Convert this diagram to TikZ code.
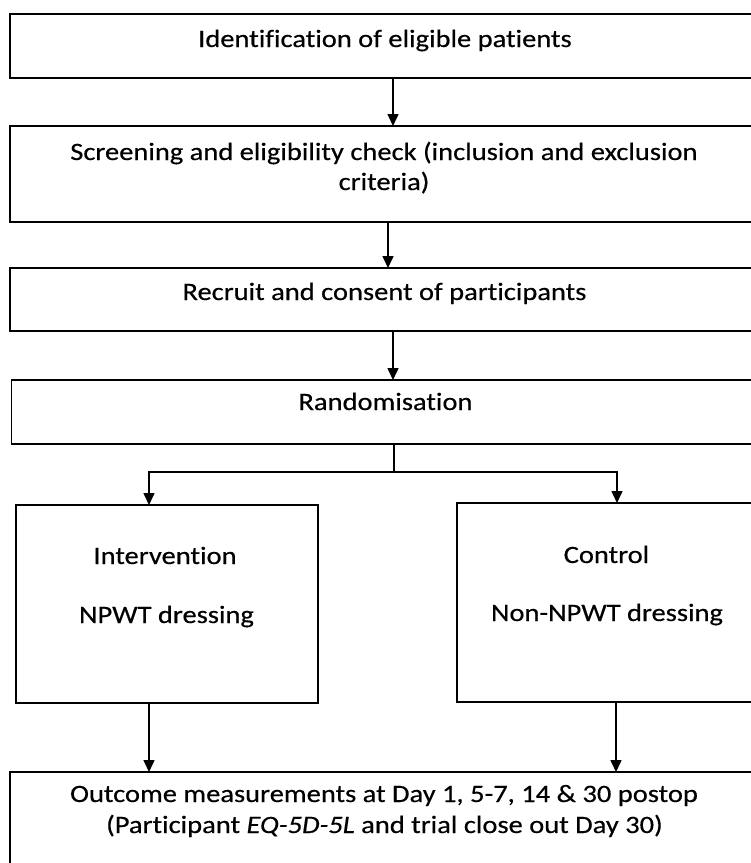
\documentclass[tikz,border=0pt]{standalone}
\usepackage{fontspec}
\setmainfont[FakeStretch=1.14, FakeBold=0.4, Ligatures=NoCommon]{Carlito}
\usetikzlibrary{arrows.meta}
\begin{document}
\begin{tikzpicture}[x=1pt,y=-1pt,
  box/.style={draw=black, line width=1.6pt, inner sep=0pt, outer sep=0pt},
  txt/.style={anchor=base, inner sep=0pt, font=\fontsize{25}{30}\selectfont, text=black},
  arr/.style={line width=1.5pt, -{Triangle[length=12pt,width=11pt]}},
  ln/.style={line width=1.5pt}]
\fill[white] (0,0) rectangle (751,863);
\useasboundingbox (0,0) rectangle (751,863);
\clip (0,0) rectangle (751,863);
% boxes
\node[box, minimum width=750pt, minimum height=64pt] (b1) at (385,46) {};
\node[box, minimum width=750pt, minimum height=96pt] (b2) at (385,174) {};
\node[box, minimum width=750pt, minimum height=63pt] (b3) at (385,299.5) {};
\node[box, minimum width=749pt, minimum height=64pt] (b4) at (386,412) {};
\node[box, minimum width=302pt, minimum height=198pt] (b5) at (167,604) {};
\node[box, minimum width=300pt, minimum height=199pt] (b6) at (607,602.5) {};
\node[box, minimum width=750pt, minimum height=120pt] (b7) at (385,832) {};
% texts
\node[txt] (t1) at (385,47) {Identification of eligible patients};
\node[txt] (t2a) at (384,160) {Screening and eligibility check (inclusion and exclusion};
\node[txt] (t2b) at (384,190) {criteria)};
\node[txt] (t3) at (384.5,300) {Recruit and consent of participants};
\node[txt] (t4) at (385.5,410) {Randomisation};
\node[txt] (t5a) at (165,564) {Intervention};
\node[txt] (t5b) at (166.5,623) {NPWT dressing};
\node[txt] (t6a) at (606.5,563) {Control};
\node[txt] (t6b) at (607,621) {Non-NPWT dressing};
\node[txt] (t7a) at (384,802) {Outcome measurements at Day 1, 5-7, 14 \& 30 postop};
\node[txt] (t7b) at (384.5,833) {(Participant \textit{EQ-5D-5L} and trial close out Day 30)};
% connectors
\draw[arr] ([xshift=8pt]b1.south) -- ([xshift=8pt]b1.south |- b2.north);
\draw[arr] ([xshift=3pt]b2.south) -- ([xshift=3pt]b2.south |- b3.north);
\draw[arr] ([xshift=8pt]b3.south) -- ([xshift=8pt]b3.south |- b4.north);
\coordinate (j) at (394,472);
\draw[ln] (b4.south -| j) -- (j);
\draw[arr] (j) -| ([xshift=-18pt]b5.north);
\draw[arr] (j) -| ([xshift=10pt]b6.north);
\draw[arr] ([xshift=-18pt]b5.south) -- ([xshift=-18pt]b5.south |- b7.north);
\draw[arr] ([xshift=9pt]b6.south) -- ([xshift=9pt]b6.south |- b7.north);
\end{tikzpicture}
\end{document}
